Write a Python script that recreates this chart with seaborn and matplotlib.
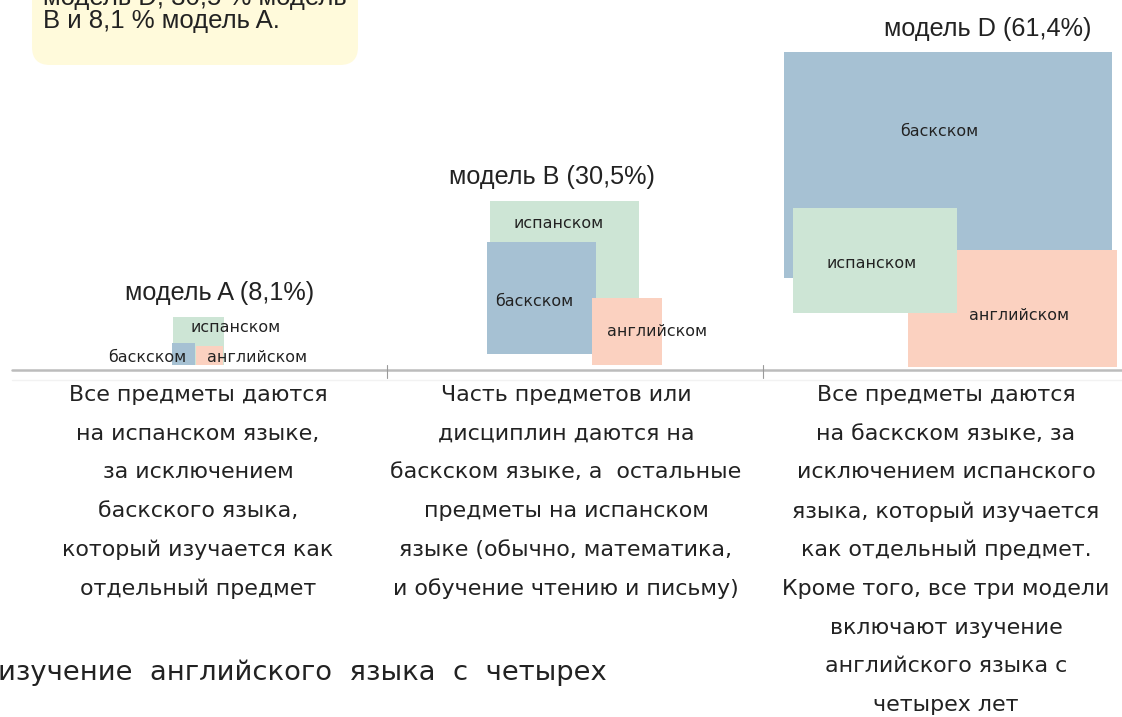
import matplotlib.pyplot as plt
import pandas as pd
import seaborn as sns
from matplotlib.patches import FancyBboxPatch

# Models and their share of pupils
models = ['A', 'B', 'D']
titles = ['модель A (8,1%)', 'модель B (30,5%)', 'модель D (61,4%)']
shares = [8.1, 30.5, 61.4]

# Language squares for each model (x left/right, y top/bottom, picture units)
langs = ['испанском', 'баскском', 'английском']
spanish_x = [(173, 224), (490, 639), (793, 957)]
spanish_y = [(317, 365), (201, 330), (208, 313)]
basque_x = [(172, 195), (487, 596), (784, 1112)]
basque_y = [(343, 365), (242, 354), (52, 278)]
english_x = [(196, 223), (592, 662), (908, 1117)]
english_y = [(346, 365), (298, 365), (250, 367)]

descriptions = [
    ['Все предметы даются', 'на испанском языке,', 'за исключением', 'баскского языка,',
     'который изучается как', 'отдельный предмет'],
    ['Часть предметов или', 'дисциплин даются на', 'баскском языке, а  остальные',
     'предметы на испанском', 'языке (обычно, математика,', 'и обучение чтению и письму)'],
    ['Все предметы даются', 'на баскском языке, за', 'исключением испанского',
     'языка, который изучается', 'как отдельный предмет.', 'Кроме того, все три модели',
     'включают изучение', 'английского языка с', 'четырех лет'],
]
note_lines = ['модель D, 30,5 % модель', 'B и 8,1 % модель A.']
bottom_line = 'изучение  английского  языка  с  четырех'

colors = {'испанском': '#cde5d5', 'баскском': '#a6c1d3', 'английском': '#fbd1c0'}

rows = []
for i, m in enumerate(models):
    for lang, xs, ys in [('испанском', spanish_x, spanish_y),
                         ('баскском', basque_x, basque_y),
                         ('английском', english_x, english_y)]:
        rows.append({'model': m, 'lang': lang, 'x0': xs[i][0], 'x1': xs[i][1],
                     'y0': ys[i][0], 'y1': ys[i][1]})
df = pd.DataFrame(rows)

# draw order (back to front) per model
order = {'A': ['испанском', 'баскском', 'английском'],
         'B': ['испанском', 'баскском', 'английском'],
         'D': ['баскском', 'английском', 'испанском']}

label_pos = {('A', 'испанском'): (236, 328), ('A', 'баскском'): (147, 358),
             ('A', 'английском'): (257, 358),
             ('B', 'испанском'): (559, 223), ('B', 'баскском'): (534, 302),
             ('B', 'английском'): (657, 332),
             ('D', 'баскском'): (939, 132), ('D', 'испанском'): (872, 264),
             ('D', 'английском'): (1019, 315)}
title_pos = [(220, 293), (552, 177), (988, 29)]

sns.set_theme(style='white')
plt.rcParams['font.family'] = ['DejaVu Sans']

fig = plt.figure(figsize=(11.22, 7.17), dpi=100)
ax = fig.add_axes([0, 0, 1, 1])
ax.set_xlim(0, 1122)
ax.set_ylim(717, 0)
ax.axis('off')

for m in models:
    for lang in order[m]:
        r = df[(df.model == m) & (df.lang == lang)].iloc[0]
        ax.bar(x=r['x0'], height=r['y1'] - r['y0'], width=r['x1'] - r['x0'],
               bottom=r['y0'], align='edge', color=colors[lang], linewidth=0, zorder=2)
    for lang in langs:
        x, y = label_pos[(m, lang)]
        ax.text(x, y, lang, ha='center', va='center', fontsize=11.4, color='#222222', zorder=3)

for t, (x, y) in zip(titles, title_pos):
    ax.text(x, y, t, ha='center', va='center', fontsize=18.2, family='Liberation Sans',
            color='#222222', zorder=3)

# baseline with ticks
ax.plot([12, 1122], [370, 370], color='#bcbcbc', lw=1.8, zorder=1)
ax.plot([12, 1122], [380, 380], color='#f2f2f2', lw=1.0, zorder=1)
for tx in [387, 763]:
    ax.plot([tx, tx], [365, 378], color='#9a9a9a', lw=0.8, zorder=1)

col_x = [198, 566, 946]
for cx, lines in zip(col_x, descriptions):
    for j, line in enumerate(lines):
        ax.text(cx, 395 + 38.75 * j, line, ha='center', va='center', fontsize=15.9,
                color='#222222')

ax.text(-2, 673, bottom_line, ha='left', va='center', fontsize=19.7, color='#222222')

# yellow note box at top left
box = FancyBboxPatch((32, -30), 326, 95, boxstyle='round,pad=0,rounding_size=18',
                     facecolor='#fffadb', edgecolor='none', zorder=0)
ax.add_patch(box)
ax.text(43, 5, note_lines[0], ha='left', va='baseline', fontsize=18.5,
        family='Liberation Sans', color='#222222')
ax.text(43, 28, note_lines[1], ha='left', va='baseline', fontsize=18.5,
        family='Liberation Sans', color='#222222')

fig.savefig('out.png', dpi=100)
